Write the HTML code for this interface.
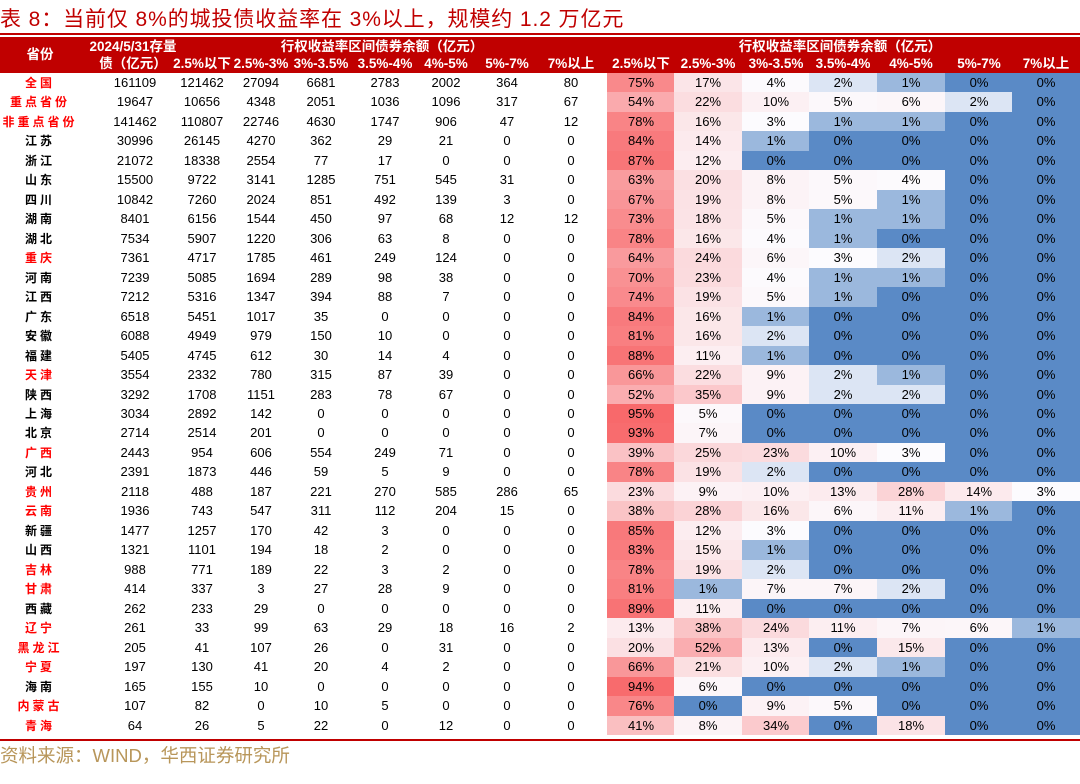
<!DOCTYPE html>
<html><head><meta charset="utf-8"><style>
body{margin:0;width:1080px;height:784px;background:#fff;position:relative;overflow:hidden;font-family:"Liberation Sans","Noto Sans CJK SC",sans-serif;}
.title{position:absolute;left:0;top:3px;font-size:21px;color:#c00000;white-space:nowrap;letter-spacing:0.9px}
.tl{position:absolute;left:0;top:33px;width:1080px;height:2px;background:#c00000}
.hd{position:absolute;left:0;top:37px;width:1080px;height:36px;background:#c00000;color:#fff;font-weight:bold;font-size:13.5px}
.hd span{position:absolute;transform:translateX(-50%);white-space:nowrap;line-height:18px}
.r{position:absolute;left:0;width:1080px;height:19.47px;font-size:13px;color:#000}
.r span{position:absolute;top:0;line-height:19.47px;white-space:nowrap;transform:translateX(-50%)}
.r span:nth-child(1){left:40px;font-weight:bold;font-size:12px;font-family:"Noto Sans CJK SC",sans-serif;letter-spacing:3px}
.r span:nth-child(2){left:135px}.r span:nth-child(3){left:202px}.r span:nth-child(4){left:261px}
.r span:nth-child(5){left:321px}.r span:nth-child(6){left:385px}.r span:nth-child(7){left:446px}
.r span:nth-child(8){left:507px}.r span:nth-child(9){left:571px}
.r span:nth-child(n+10){transform:none;width:68px;text-align:center;height:19.6px}
.r span:nth-child(10){left:607px}.r span:nth-child(11){left:674px}.r span:nth-child(12){left:742px}
.r span:nth-child(13){left:809px}.r span:nth-child(14){left:877px}.r span:nth-child(15){left:945px}.r span:nth-child(16){left:1012px}
.red span:nth-child(1){color:#f00}
.bl{position:absolute;left:0;top:739px;width:1080px;height:2px;background:#c00000}
.src{position:absolute;left:0;top:742px;font-size:18.5px;color:#b8965a;white-space:nowrap}
</style></head><body>
<div class="title">表 8：当前仅 8%的城投债收益率在 3%以上，规模约 1.2 万亿元</div>
<div class="tl"></div>
<div class="hd">
<span style="left:40px;top:9px">省份</span>
<span style="left:133px;top:1px">2024/5/31存量</span>
<span style="left:133px;top:18px">债（亿元）</span>
<span style="left:382px;top:1px">行权收益率区间债券余额（亿元）</span>
<span style="left:840px;top:1px">行权收益率区间债券余额（亿元）</span>
<span style="left:202px;top:18px">2.5%以下</span><span style="left:261px;top:18px">2.5%-3%</span><span style="left:321px;top:18px">3%-3.5%</span><span style="left:385px;top:18px">3.5%-4%</span><span style="left:446px;top:18px">4%-5%</span><span style="left:507px;top:18px">5%-7%</span><span style="left:571px;top:18px">7%以上</span>
<span style="left:641px;top:18px">2.5%以下</span><span style="left:708px;top:18px">2.5%-3%</span><span style="left:776px;top:18px">3%-3.5%</span><span style="left:843px;top:18px">3.5%-4%</span><span style="left:911px;top:18px">4%-5%</span><span style="left:979px;top:18px">5%-7%</span><span style="left:1046px;top:18px">7%以上</span>
</div>
<div id="rows">
<div class="r red"><span>全国</span><span>161109</span><span>121462</span><span>27094</span><span>6681</span><span>2783</span><span>2002</span><span>364</span><span>80</span><span>75%</span><span>17%</span><span>4%</span><span>2%</span><span>1%</span><span>0%</span><span>0%</span></div>
<div class="r red"><span>重点省份</span><span>19647</span><span>10656</span><span>4348</span><span>2051</span><span>1036</span><span>1096</span><span>317</span><span>67</span><span>54%</span><span>22%</span><span>10%</span><span>5%</span><span>6%</span><span>2%</span><span>0%</span></div>
<div class="r red"><span>非重点省份</span><span>141462</span><span>110807</span><span>22746</span><span>4630</span><span>1747</span><span>906</span><span>47</span><span>12</span><span>78%</span><span>16%</span><span>3%</span><span>1%</span><span>1%</span><span>0%</span><span>0%</span></div>
<div class="r"><span>江苏</span><span>30996</span><span>26145</span><span>4270</span><span>362</span><span>29</span><span>21</span><span>0</span><span>0</span><span>84%</span><span>14%</span><span>1%</span><span>0%</span><span>0%</span><span>0%</span><span>0%</span></div>
<div class="r"><span>浙江</span><span>21072</span><span>18338</span><span>2554</span><span>77</span><span>17</span><span>0</span><span>0</span><span>0</span><span>87%</span><span>12%</span><span>0%</span><span>0%</span><span>0%</span><span>0%</span><span>0%</span></div>
<div class="r"><span>山东</span><span>15500</span><span>9722</span><span>3141</span><span>1285</span><span>751</span><span>545</span><span>31</span><span>0</span><span>63%</span><span>20%</span><span>8%</span><span>5%</span><span>4%</span><span>0%</span><span>0%</span></div>
<div class="r"><span>四川</span><span>10842</span><span>7260</span><span>2024</span><span>851</span><span>492</span><span>139</span><span>3</span><span>0</span><span>67%</span><span>19%</span><span>8%</span><span>5%</span><span>1%</span><span>0%</span><span>0%</span></div>
<div class="r"><span>湖南</span><span>8401</span><span>6156</span><span>1544</span><span>450</span><span>97</span><span>68</span><span>12</span><span>12</span><span>73%</span><span>18%</span><span>5%</span><span>1%</span><span>1%</span><span>0%</span><span>0%</span></div>
<div class="r"><span>湖北</span><span>7534</span><span>5907</span><span>1220</span><span>306</span><span>63</span><span>8</span><span>0</span><span>0</span><span>78%</span><span>16%</span><span>4%</span><span>1%</span><span>0%</span><span>0%</span><span>0%</span></div>
<div class="r red"><span>重庆</span><span>7361</span><span>4717</span><span>1785</span><span>461</span><span>249</span><span>124</span><span>0</span><span>0</span><span>64%</span><span>24%</span><span>6%</span><span>3%</span><span>2%</span><span>0%</span><span>0%</span></div>
<div class="r"><span>河南</span><span>7239</span><span>5085</span><span>1694</span><span>289</span><span>98</span><span>38</span><span>0</span><span>0</span><span>70%</span><span>23%</span><span>4%</span><span>1%</span><span>1%</span><span>0%</span><span>0%</span></div>
<div class="r"><span>江西</span><span>7212</span><span>5316</span><span>1347</span><span>394</span><span>88</span><span>7</span><span>0</span><span>0</span><span>74%</span><span>19%</span><span>5%</span><span>1%</span><span>0%</span><span>0%</span><span>0%</span></div>
<div class="r"><span>广东</span><span>6518</span><span>5451</span><span>1017</span><span>35</span><span>0</span><span>0</span><span>0</span><span>0</span><span>84%</span><span>16%</span><span>1%</span><span>0%</span><span>0%</span><span>0%</span><span>0%</span></div>
<div class="r"><span>安徽</span><span>6088</span><span>4949</span><span>979</span><span>150</span><span>10</span><span>0</span><span>0</span><span>0</span><span>81%</span><span>16%</span><span>2%</span><span>0%</span><span>0%</span><span>0%</span><span>0%</span></div>
<div class="r"><span>福建</span><span>5405</span><span>4745</span><span>612</span><span>30</span><span>14</span><span>4</span><span>0</span><span>0</span><span>88%</span><span>11%</span><span>1%</span><span>0%</span><span>0%</span><span>0%</span><span>0%</span></div>
<div class="r red"><span>天津</span><span>3554</span><span>2332</span><span>780</span><span>315</span><span>87</span><span>39</span><span>0</span><span>0</span><span>66%</span><span>22%</span><span>9%</span><span>2%</span><span>1%</span><span>0%</span><span>0%</span></div>
<div class="r"><span>陕西</span><span>3292</span><span>1708</span><span>1151</span><span>283</span><span>78</span><span>67</span><span>0</span><span>0</span><span>52%</span><span>35%</span><span>9%</span><span>2%</span><span>2%</span><span>0%</span><span>0%</span></div>
<div class="r"><span>上海</span><span>3034</span><span>2892</span><span>142</span><span>0</span><span>0</span><span>0</span><span>0</span><span>0</span><span>95%</span><span>5%</span><span>0%</span><span>0%</span><span>0%</span><span>0%</span><span>0%</span></div>
<div class="r"><span>北京</span><span>2714</span><span>2514</span><span>201</span><span>0</span><span>0</span><span>0</span><span>0</span><span>0</span><span>93%</span><span>7%</span><span>0%</span><span>0%</span><span>0%</span><span>0%</span><span>0%</span></div>
<div class="r red"><span>广西</span><span>2443</span><span>954</span><span>606</span><span>554</span><span>249</span><span>71</span><span>0</span><span>0</span><span>39%</span><span>25%</span><span>23%</span><span>10%</span><span>3%</span><span>0%</span><span>0%</span></div>
<div class="r"><span>河北</span><span>2391</span><span>1873</span><span>446</span><span>59</span><span>5</span><span>9</span><span>0</span><span>0</span><span>78%</span><span>19%</span><span>2%</span><span>0%</span><span>0%</span><span>0%</span><span>0%</span></div>
<div class="r red"><span>贵州</span><span>2118</span><span>488</span><span>187</span><span>221</span><span>270</span><span>585</span><span>286</span><span>65</span><span>23%</span><span>9%</span><span>10%</span><span>13%</span><span>28%</span><span>14%</span><span>3%</span></div>
<div class="r red"><span>云南</span><span>1936</span><span>743</span><span>547</span><span>311</span><span>112</span><span>204</span><span>15</span><span>0</span><span>38%</span><span>28%</span><span>16%</span><span>6%</span><span>11%</span><span>1%</span><span>0%</span></div>
<div class="r"><span>新疆</span><span>1477</span><span>1257</span><span>170</span><span>42</span><span>3</span><span>0</span><span>0</span><span>0</span><span>85%</span><span>12%</span><span>3%</span><span>0%</span><span>0%</span><span>0%</span><span>0%</span></div>
<div class="r"><span>山西</span><span>1321</span><span>1101</span><span>194</span><span>18</span><span>2</span><span>0</span><span>0</span><span>0</span><span>83%</span><span>15%</span><span>1%</span><span>0%</span><span>0%</span><span>0%</span><span>0%</span></div>
<div class="r red"><span>吉林</span><span>988</span><span>771</span><span>189</span><span>22</span><span>3</span><span>2</span><span>0</span><span>0</span><span>78%</span><span>19%</span><span>2%</span><span>0%</span><span>0%</span><span>0%</span><span>0%</span></div>
<div class="r red"><span>甘肃</span><span>414</span><span>337</span><span>3</span><span>27</span><span>28</span><span>9</span><span>0</span><span>0</span><span>81%</span><span>1%</span><span>7%</span><span>7%</span><span>2%</span><span>0%</span><span>0%</span></div>
<div class="r"><span>西藏</span><span>262</span><span>233</span><span>29</span><span>0</span><span>0</span><span>0</span><span>0</span><span>0</span><span>89%</span><span>11%</span><span>0%</span><span>0%</span><span>0%</span><span>0%</span><span>0%</span></div>
<div class="r red"><span>辽宁</span><span>261</span><span>33</span><span>99</span><span>63</span><span>29</span><span>18</span><span>16</span><span>2</span><span>13%</span><span>38%</span><span>24%</span><span>11%</span><span>7%</span><span>6%</span><span>1%</span></div>
<div class="r red"><span>黑龙江</span><span>205</span><span>41</span><span>107</span><span>26</span><span>0</span><span>31</span><span>0</span><span>0</span><span>20%</span><span>52%</span><span>13%</span><span>0%</span><span>15%</span><span>0%</span><span>0%</span></div>
<div class="r red"><span>宁夏</span><span>197</span><span>130</span><span>41</span><span>20</span><span>4</span><span>2</span><span>0</span><span>0</span><span>66%</span><span>21%</span><span>10%</span><span>2%</span><span>1%</span><span>0%</span><span>0%</span></div>
<div class="r"><span>海南</span><span>165</span><span>155</span><span>10</span><span>0</span><span>0</span><span>0</span><span>0</span><span>0</span><span>94%</span><span>6%</span><span>0%</span><span>0%</span><span>0%</span><span>0%</span><span>0%</span></div>
<div class="r red"><span>内蒙古</span><span>107</span><span>82</span><span>0</span><span>10</span><span>5</span><span>0</span><span>0</span><span>0</span><span>76%</span><span>0%</span><span>9%</span><span>5%</span><span>0%</span><span>0%</span><span>0%</span></div>
<div class="r red"><span>青海</span><span>64</span><span>26</span><span>5</span><span>22</span><span>0</span><span>12</span><span>0</span><span>0</span><span>41%</span><span>8%</span><span>34%</span><span>0%</span><span>18%</span><span>0%</span><span>0%</span></div>
</div>
<div class="bl"></div>
<div class="src">资料来源：WIND，华西证券研究所</div>
<script>
var rows=document.querySelectorAll('.r');
function mix(a,b,t){return 'rgb('+a.map(function(v,i){return Math.round(v+(b[i]-v)*t)}).join(',')+')';}
var R=[248,105,107],W=[252,252,255],B=[90,138,198];
for(var i=0;i<rows.length;i++){
 rows[i].style.top=(73+i*19.47).toFixed(2)+'px';
 var s=rows[i].querySelectorAll('span');
 for(var j=9;j<s.length;j++){
  var v=parseFloat(s[j].textContent),c;
  if(v<2.5){c=mix(B,W,v/2.5);}else{c=mix(W,R,Math.min(1,(v-2.5)/92.5));}
  s[j].style.background=c;
 }
}
</script>
</body></html>
